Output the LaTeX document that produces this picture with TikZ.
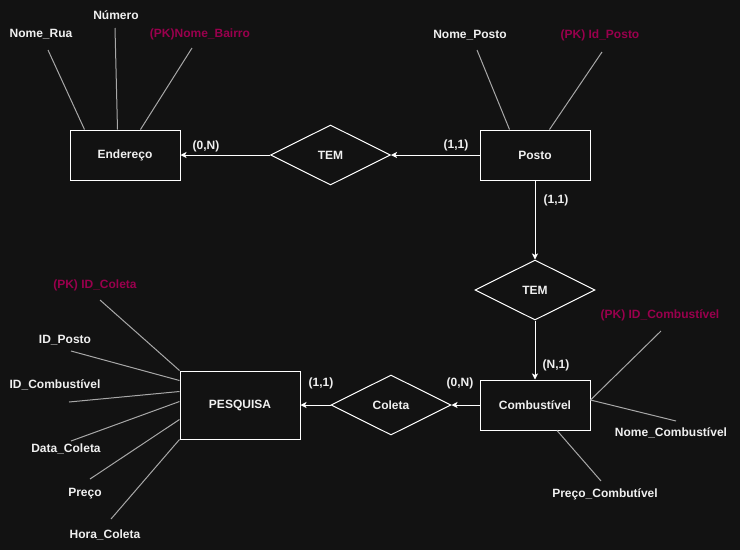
\documentclass[tikz,border=0pt]{standalone}
\usepackage{fontspec}
\setmainfont{Liberation Sans}
\usepackage{tikz}
\usepackage{xcolor}
\usetikzlibrary{shapes.geometric,arrows.meta}
\definecolor{bgdark}{HTML}{121212}
\definecolor{pkpurple}{HTML}{99004D}
\definecolor{attrgray}{HTML}{A8A8A8}
\definecolor{textwhite}{HTML}{F0F0F0}
\tikzset{
    entity-box/.style = {draw=white, fill=bgdark, line width=1pt, rectangle, minimum width=110pt, minimum height=50pt, inner sep=0pt, text=textwhite, font=\fontsize{12}{14}\selectfont\bfseries},
    relation-diamond/.style = {draw=white, fill=bgdark, line width=1pt, diamond, aspect=2, minimum width=120pt, minimum height=60pt, inner sep=0pt, text=textwhite, font=\fontsize{12}{14}\selectfont\bfseries},
    attr-label/.style = {text=textwhite, inner sep=1pt, font=\fontsize{12}{14}\selectfont\bfseries},
    pk-label/.style = {attr-label, text=pkpurple},
    card-label/.style = {attr-label},
    attr-line/.style = {draw=attrgray, line width=1pt},
    rel-arrow/.style = {draw=white, line width=1pt, -{Stealth[length=6pt,width=6pt,inset=1.5pt]}},
}

\begin{document}
\begin{tikzpicture}[x=1pt,y=-1pt]
\fill[bgdark] (0,0) rectangle (740,550);
\useasboundingbox (0,0) rectangle (740,550);

% entidades e relacionamentos
\node[entity-box] (endereco) at (125,155) {Endereço};
\node[entity-box] (posto) at (535,155) {Posto};
\node[entity-box] (comb) at (535,405) {Combustível};
\node[entity-box, minimum width=120pt, minimum height=68pt] (pesquisa) at (240,405) {PESQUISA};
\node[relation-diamond] (tem1) at (330.5,155) {TEM};
\node[relation-diamond] (tem2) at (535,290) {TEM};
\node[relation-diamond] (coleta) at (391,405) {Coleta};

\draw[rel-arrow] (posto.west) -- (tem1.east);
\draw[rel-arrow] (tem1.west) -- (endereco.east);
\draw[rel-arrow] (posto.south) -- (tem2.north);
\draw[rel-arrow] (tem2.south) -- (comb.north);
\draw[rel-arrow] (comb.west) -- (coleta.east);
\draw[rel-arrow] (coleta.west) -- (pesquisa.east);

% cardinalidades
\node[card-label] (card-end) at (206,146) {(0,N)};
\node[card-label] (card-posto) at (456,145) {(1,1)};
\node[card-label] (card-posto2) at (556,200) {(1,1)};
\node[card-label] (card-comb) at (556,365) {(N,1)};
\node[card-label] (card-comb2) at (460,383) {(0,N)};
\node[card-label] (card-pesq) at (321,383) {(1,1)};

% atributos de Endereço
\node[attr-label] (nomerua) at (41,34) {Nome\_Rua};
\node[attr-label] (numero) at (116,15) {Número};
\node[pk-label] (nomebairro) at (200,34) {(PK)Nome\_Bairro};
\draw[attr-line] ([shift={(7,16)}]nomerua.center) -- ([shift={(15,0)}]endereco.north west);
\draw[attr-line] ([shift={(-1,13)}]numero.center) -- ([shift={(48,0)}]endereco.north west);
\draw[attr-line] ([shift={(-8,14)}]nomebairro.center) -- ([shift={(71,0)}]endereco.north west);

% atributos de Posto
\node[attr-label] (nomeposto) at (470,35) {Nome\_Posto};
\node[pk-label] (idposto) at (600,35) {(PK) Id\_Posto};
\draw[attr-line] ([shift={(7,15)}]nomeposto.center) -- ([shift={(30,0)}]posto.north west);
\draw[attr-line] ([shift={(2,17)}]idposto.center) -- ([shift={(70,0)}]posto.north west);

% atributos de PESQUISA
\node[pk-label] (idcoleta) at (95,285) {(PK) ID\_Coleta};
\node[attr-label] (idpostoattr) at (65,340) {ID\_Posto};
\node[attr-label] (idcombattr) at (55,385) {ID\_Combustível};
\node[attr-label] (datacoleta) at (66,449) {Data\_Coleta};
\node[attr-label] (preco) at (85,494) {Preço};
\node[attr-label] (horacoleta) at (105,535) {Hora\_Coleta};
\draw[attr-line] ([shift={(5,15)}]idcoleta.center) -- (pesquisa.north west);
\draw[attr-line] ([shift={(6,11)}]idpostoattr.center) -- ([shift={(0,10)}]pesquisa.north west);
\draw[attr-line] ([shift={(14,17)}]idcombattr.center) -- ([shift={(0,21)}]pesquisa.north west);
\draw[attr-line] ([shift={(5,-8)}]datacoleta.center) -- ([shift={(0,31)}]pesquisa.north west);
\draw[attr-line] ([shift={(5,-15)}]preco.center) -- ([shift={(0,49)}]pesquisa.north west);
\draw[attr-line] ([shift={(6,-16)}]horacoleta.center) -- (pesquisa.south west);

% atributos de Combustível
\node[pk-label] (idcomb) at (660,315) {(PK) ID\_Combustível};
\node[attr-label] (nomecomb) at (671,433) {Nome\_Combustível};
\node[attr-label] (precocomb) at (605,494) {Preço\_Combutível};
\draw[attr-line] ([shift={(1,16)}]idcomb.center) -- ([shift={(0,-5)}]comb.east);
\draw[attr-line] ([shift={(5,-12)}]nomecomb.center) -- ([shift={(0,-5)}]comb.east);
\draw[attr-line] ([shift={(-4,-13)}]precocomb.center) -- ([shift={(22,0)}]comb.south);
\end{tikzpicture}
\end{document}
